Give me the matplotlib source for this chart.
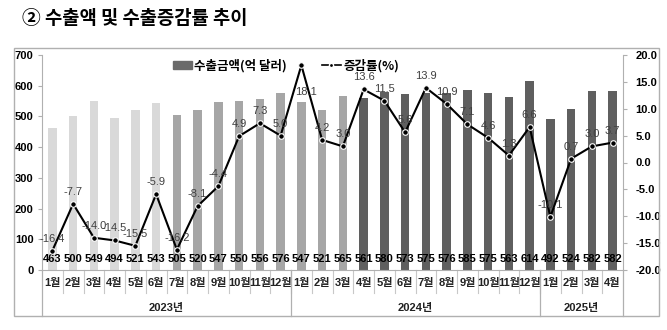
import matplotlib
matplotlib.use("Agg")
import matplotlib.pyplot as plt
from matplotlib.patches import Patch, Rectangle
from matplotlib.lines import Line2D

plt.rcParams['font.family'] = ['Liberation Sans', 'Noto Sans CJK KR', 'DejaVu Sans']

# data
months = ['1월', '2월', '3월', '4월', '5월', '6월', '7월', '8월', '9월', '10월', '11월', '12월',
          '1월', '2월', '3월', '4월', '5월', '6월', '7월', '8월', '9월', '10월', '11월', '12월',
          '1월', '2월', '3월', '4월']
years = ['2023년', '2024년', '2025년']
year_counts = [12, 12, 4]
exports = [463, 500, 549, 494, 521, 543, 505, 520, 547, 550, 556, 576,
           547, 521, 565, 561, 580, 573, 575, 576, 585, 575, 563, 614,
           492, 524, 582, 582]
growth = [-16.4, -7.7, -14.0, -14.5, -15.5, -5.9, -16.2, -8.1, -4.4, 4.9, 7.3, 5.0,
          18.1, 4.2, 3.0, 13.6, 11.5, 5.6, 13.9, 10.9, 7.1, 4.6, 1.3, 6.6,
          -10.1, 0.7, 3.0, 3.7]

n = len(exports)
x = list(range(n))
colors = ['#d9d9d9'] * 6 + ['#a6a6a6'] * 9 + ['#5f5f5f'] * 13
axis_col = '#b0b0b0'

fig = plt.figure(figsize=(6.67, 3.30), dpi=100)
fig.text(22 / 667, 1 - 18 / 330, '② 수출액 및 수출증감률 추이', fontsize=13.5, fontweight='bold',
         va='center', ha='left', family=['Noto Sans CJK KR', 'DejaVu Sans'])
fig.patches.append(Rectangle((14 / 667, 1 - 316 / 330), 645 / 667, 268 / 330,
                             transform=fig.transFigure, fill=False, ec=axis_col, lw=1))

ax = fig.add_axes([42 / 667, 1 - 270 / 330, 581 / 667, 215 / 330])
ax.bar(x, exports, width=0.42, color=colors, zorder=2)
ax.set_xlim(-0.5, n - 0.5)
ax.set_ylim(0, 700)
ax.set_yticks(range(0, 701, 100))
ax.set_xticks([])
for s in ['top', 'right']:
    ax.spines[s].set_visible(False)
for s in ['left', 'bottom']:
    ax.spines[s].set_color(axis_col)
ax.tick_params(axis='y', length=3, color=axis_col, labelsize=8, pad=3)
for t in ax.get_yticklabels():
    t.set_fontweight('bold')

xt = ax.get_xaxis_transform()
for i, v in enumerate(exports):
    ax.text(i, 0.052, str(v), transform=xt, ha='center', va='center',
            fontsize=8, fontweight='bold', color='black', zorder=5)

# category table below axis
for i in range(1, n):
    ax.plot([i - 0.5, i - 0.5], [0, -0.107], transform=xt, color='#c8c8c8', lw=0.8, clip_on=False)
for i, m in enumerate(months):
    ax.text(i, -0.06, m, transform=xt, ha='center', va='center', fontsize=8,
            fontweight='bold', color='#222222')
start = 0
for y, c in zip(years, year_counts):
    ax.text(start + c / 2 - 0.5, -0.177, y, transform=xt, ha='center', va='center',
            fontsize=8, fontweight='bold', color='#222222')
    start += c
    ax.plot([start - 0.5, start - 0.5], [0, -0.214], transform=xt, color=axis_col, lw=0.9, clip_on=False)
ax.plot([-0.5, -0.5], [0, -0.214], transform=xt, color=axis_col, lw=0.9, clip_on=False)

ax2 = ax.twinx()
ax2.plot(x, growth, color='black', lw=1.5, marker='o', ms=4, mfc='black', mec='white', mew=0.8, zorder=4)
ax2.set_ylim(-20, 20)
ax2.set_yticks(range(-20, 21, 5))
ax2.set_yticklabels([f'{v:.1f}' for v in range(-20, 21, 5)])
for s in ['top', 'left', 'bottom']:
    ax2.spines[s].set_visible(False)
ax2.spines['right'].set_color(axis_col)
ax2.tick_params(axis='y', length=3, color=axis_col, labelsize=8, pad=6)
for t in ax2.get_yticklabels():
    t.set_fontweight('bold')

for i, g in enumerate(growth):
    off = (5, -27) if g == max(growth) else (0, 12)
    ax2.annotate(f'{g:.1f}', (i, g), xytext=off, textcoords='offset pixels',
                 ha='center', va='center', fontsize=8, color='#404040', zorder=6)

handles = [Patch(color='#6a6a6a'),
           Line2D([], [], color='black', lw=1.2, marker='o', ms=3, mfc='black', mec='white')]
ax2.legend(handles, ['수출금액(억 달러)', '증감률(%)'], loc='center', bbox_to_anchor=(0.42, 0.95),
           ncol=2, frameon=False, handlelength=1.5, handleheight=0.5, handletextpad=0.2,
           columnspacing=2.8, prop={'size': 9, 'weight': 'bold',
                                    'family': ['Noto Sans CJK KR', 'DejaVu Sans']})

fig.savefig('out.png', dpi=100)
